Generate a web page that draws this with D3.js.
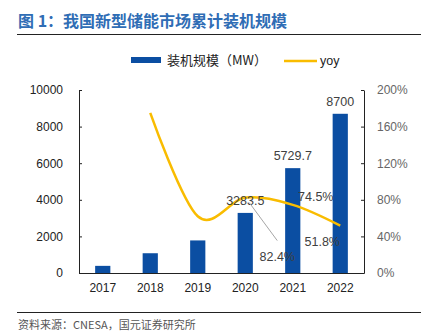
<!DOCTYPE html>
<html>
<head>
<meta charset="utf-8">
<script src="https://cdn.jsdelivr.net/npm/d3@7"></script>
<style>
  html, body { margin: 0; padding: 0; background: #fff; }
  svg { display: block; }
</style>
</head>
<body>
<svg id="chart" width="432" height="334"></svg>
<script>
// Cumulative installed capacity of new-type energy storage in China (MW) and YoY growth
const years = ["2017", "2018", "2019", "2020", "2021", "2022"];
const capacity = [390, 1080, 1780, 3283.5, 5729.7, 8700];
const yoy = [null, 175, 62, 82.4, 74.5, 51.8];
const leftTicks = [0, 2000, 4000, 6000, 8000, 10000];
const rightTicks = [0, 40, 80, 120, 160, 200];
const capLabels = [null, null, null, "3283.5", "5729.7", "8700"];
const yoyLabels = [null, null, null, "82.4%", "74.5%", "51.8%"];

const svg = d3.select("#chart");
const latin = "'Liberation Sans', Arial, sans-serif";
const cjk = "'Noto Sans CJK SC', 'Liberation Sans', sans-serif";

const m = { left: 79, right: 364, top: 90, bottom: 273 };

const x = d3.scaleBand().domain(years).range([m.left, m.right]).paddingInner(0.68).paddingOuter(0.34);
const yL = d3.scaleLinear().domain([0, 10000]).range([m.bottom, m.top]);
const yR = d3.scaleLinear().domain([0, 200]).range([m.bottom, m.top]);

// Title and header rule
svg.append("text").attr("x", 18).attr("y", 27)
  .attr("font-family", cjk).attr("font-weight", "bold").attr("font-size", 16)
  .attr("fill", "#2F6DB5").text("图 1：我国新型储能市场累计装机规模");
svg.append("line").attr("x1", 17).attr("x2", 421).attr("y1", 34.5).attr("y2", 34.5)
  .attr("stroke", "#222").attr("stroke-width", 1);

// Legend
svg.append("rect").attr("x", 131).attr("y", 57).attr("width", 30).attr("height", 6).attr("fill", "#0B4EA2");
svg.append("text").attr("x", 167).attr("y", 65).attr("font-family", cjk).attr("font-size", 13)
  .attr("fill", "#222").text("装机规模（MW）");
svg.append("line").attr("x1", 284).attr("x2", 317).attr("y1", 61).attr("y2", 61)
  .attr("stroke", "#F9BC00").attr("stroke-width", 2.5);
svg.append("text").attr("x", 320).attr("y", 65).attr("font-family", latin).attr("font-size", 12.5)
  .attr("fill", "#222").text("yoy");

// Bars
svg.append("g").selectAll("rect").data(capacity).join("rect")
  .attr("x", (d, i) => x(years[i]))
  .attr("width", x.bandwidth())
  .attr("y", d => yL(d))
  .attr("height", d => m.bottom - yL(d))
  .attr("fill", "#0B4EA2");

// Axes
const leftAxis = svg.append("g").attr("transform", `translate(${m.left},0)`)
  .call(d3.axisLeft(yL).tickValues(leftTicks).tickSizeInner(-3).tickSizeOuter(0).tickPadding(16).tickFormat(d3.format("d")));
leftAxis.selectAll("text").attr("font-family", latin).attr("font-size", 12).attr("fill", "#222");
leftAxis.select(".domain").attr("stroke", "#222");
leftAxis.selectAll(".tick line").attr("stroke", "#222");

const rightAxis = svg.append("g").attr("transform", `translate(${m.right},0)`)
  .call(d3.axisRight(yR).tickValues(rightTicks).tickSizeInner(-3).tickSizeOuter(0).tickPadding(13).tickFormat(d => d + "%"));
rightAxis.selectAll("text").attr("font-family", latin).attr("font-size", 12).attr("fill", "#666");
rightAxis.select(".domain").attr("stroke", "#222");
rightAxis.selectAll(".tick line").attr("stroke", "#222");

const bottomAxis = svg.append("g").attr("transform", `translate(0,${m.bottom})`)
  .call(d3.axisBottom(x).tickSize(0).tickPadding(10));
bottomAxis.selectAll("text").attr("font-family", latin).attr("font-size", 12).attr("fill", "#222");
bottomAxis.select(".domain").attr("stroke", "#222");

// YoY smooth line
const cx = i => x(years[i]) + x.bandwidth() / 2;
const pts = yoy.map((v, i) => ({ i, v })).filter(d => d.v !== null);
svg.append("path").datum(pts)
  .attr("d", d3.line().x(d => cx(d.i)).y(d => yR(d.v)).curve(d3.curveCardinal.tension(0)))
  .attr("fill", "none").attr("stroke", "#F9BC00").attr("stroke-width", 2.5);

// Value labels on bars
const labelG = svg.append("g").attr("font-family", latin).attr("font-size", 12.5).attr("fill", "#404040")
  .attr("text-anchor", "middle");
capLabels.forEach((t, i) => {
  if (!t) return;
  labelG.append("text").attr("x", cx(i)).attr("y", yL(capacity[i]) - 8).text(t);
});

// YoY labels (the 2020 label sits below with a leader line)
const yoyOffsets = [null, null, null, [32, 63], [23, -4], [-18, 20]];
yoyLabels.forEach((t, i) => {
  if (!t) return;
  const [dx, dy] = yoyOffsets[i];
  const px = cx(i), py = yR(yoy[i]);
  if (i === 3) {
    svg.append("line").attr("x1", px + 4).attr("y1", py + 5).attr("x2", px + 32).attr("y2", py + 43)
      .attr("stroke", "#A6A6A6").attr("stroke-width", 1);
  }
  labelG.append("text").attr("x", px + dx).attr("y", py + dy).text(t);
});

// Footer rule and source
svg.append("line").attr("x1", 17).attr("x2", 421).attr("y1", 312.5).attr("y2", 312.5)
  .attr("stroke", "#222").attr("stroke-width", 1);
svg.append("text").attr("x", 18).attr("y", 329).attr("font-family", cjk).attr("font-size", 11)
  .attr("fill", "#555").text("资料来源：CNESA，国元证券研究所");
</script>
</body>
</html>
